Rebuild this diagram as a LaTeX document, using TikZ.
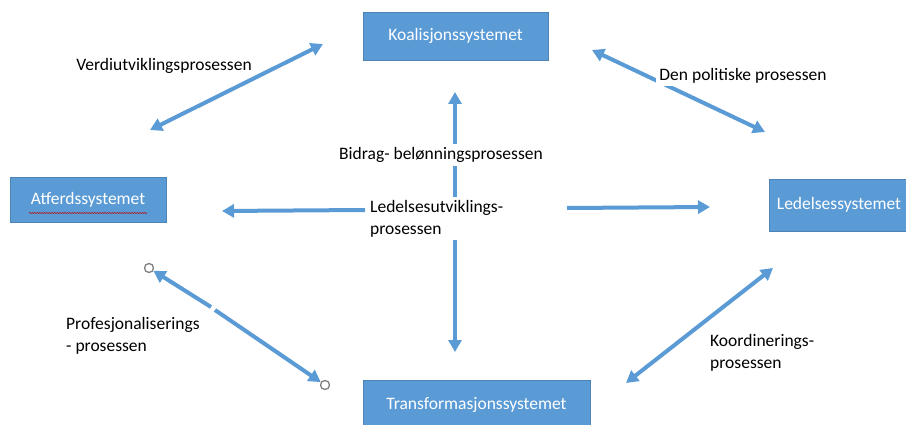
\documentclass[tikz,border=0pt]{standalone}
\usepackage{fontspec}
\setmainfont{Carlito}
\usetikzlibrary{arrows.meta,decorations.pathmorphing}
\definecolor{officeblue}{HTML}{5B9BD5}
\begin{document}
\begin{tikzpicture}[x=1pt,y=-1pt,
  sysbox/.style={fill=officeblue,draw=officeblue!85!black,line width=0.6pt,text=white,
    font=\fontsize{17.5}{20}\selectfont,inner sep=0pt,anchor=center},
  lbl/.style={font=\fontsize{17.5}{22}\selectfont,inner sep=1pt,text=black},
  flow/.style={draw=officeblue,line width=4pt,-{Triangle[length=12pt,width=13pt]}},
  biflow/.style={draw=officeblue,line width=4pt,{Triangle[length=12pt,width=13pt]}-{Triangle[length=12pt,width=13pt]}},
  endring/.style={circle,draw=gray,line width=1.3pt,fill=white,minimum size=9pt,inner sep=0pt}]
\useasboundingbox (0,0) rectangle (906,425);
\fill[white] (0,0) rectangle (906,425);

% boxes
\node[sysbox,minimum width=185pt,minimum height=48pt] (koal) at (455.5,36) {Koalisjonssystemet};
\node[sysbox,minimum width=156pt,minimum height=45pt] (atf) at (88,199.5) {Atferdssystemet};
\node[sysbox,minimum width=140pt,minimum height=52pt] (led) at (839,205) {Ledelsessystemet};
\node[sysbox,minimum width=227pt,minimum height=50pt] (trans) at (476.5,405) {Transformasjonssystemet};
% spell-check underline
\draw[red!75!black,line width=0.5pt,decorate,decoration={snake,amplitude=0.6pt,segment length=2.5pt}]
  (29,213) -- (147,213);

% named free ends
\coordinate (v1) at (150,130); \coordinate (v2) at (323,44);
\coordinate (p1) at (592,50);  \coordinate (p2) at (765,132);
\coordinate (c0) at (455,215);
\coordinate (cu) at (455,92);  \coordinate (cd) at (455,352);
\coordinate (l1) at (365,210); \coordinate (l2) at (222,211);
\coordinate (r1) at (567,208); \coordinate (r2) at (710,207);
\coordinate (k1) at (626,383); \coordinate (k2) at (773,268);
\coordinate (g1) at (211,307); \coordinate (g2) at (215,310);

% arrows
\draw[biflow] (v1) -- (v2);
\draw[biflow] (p1) -- (p2);
\draw[flow] (c0) -- (cu);
\draw[flow] (c0) -- (cd);
\draw[flow] (l1) -- (l2);
\draw[flow] (r1) -- (r2);
\draw[biflow] (k1) -- (k2);

% professionalisation arrow with end rings
\node[endring] (o1) at (149,268) {};
\node[endring] (o2) at (325,385) {};
\draw[flow] (g1) -- (o1);
\draw[flow] (g2) -- (o2);

% labels
\node[lbl] (verdi) at (164,66) {Verdiutviklingsprosessen};
\node[lbl,fill=white,inner sep=3pt] (pol) at (743,76) {Den politiske prosessen};
\node[lbl,fill=white,inner sep=3pt] (bidrag) at (441,155) {Bidrag- belønningsprosessen};
\node[lbl,fill=white,align=left,anchor=north west,inner sep=3pt] (ledut) at (367,197) {Ledelsesutviklings-\\prosessen};
\node[lbl,align=left,anchor=north west] (prof) at (65,316) {Profesjonaliserings\\- prosessen};
\node[lbl,align=left,anchor=north west] (koord) at (709,333) {Koordinerings-\\prosessen};
\end{tikzpicture}
\end{document}
